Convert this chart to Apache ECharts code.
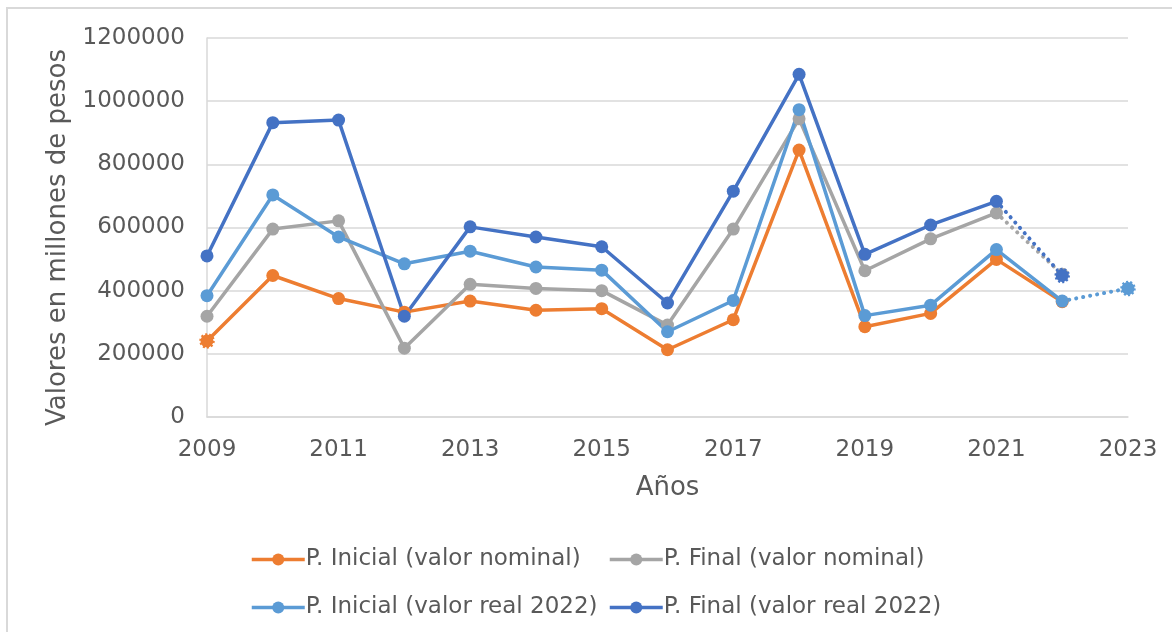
<!DOCTYPE html>
<html>
<head>
<meta charset="utf-8">
<script src="https://cdn.jsdelivr.net/npm/echarts@6/dist/echarts.min.js"></script>
<style>
    html, body { margin: 0; padding: 0; background: #fff; }
    #chart { width: 1172px; height: 632px; }
    #frame {
        position: absolute; left: 6px; top: 7px; right: -10px; bottom: -10px;
        border-left: 2px solid #D9D9D9; border-top: 2px solid #D9D9D9;
        pointer-events: none;
    }
</style>
</head>
<body>
<div id="chart"></div>
<div id="frame"></div>
<script>
// Data
const years = ['2009', '2010', '2011', '2012', '2013', '2014', '2015', '2016',
    '2017', '2018', '2019', '2020', '2021', '2022', '2023'];

const inicialNominal = [241000, 448000, 375000, 332000, 367000, 338000, 343000, 213000,
    308000, 845000, 286000, 328000, 499000, 365000, null];
const finalNominal = [319000, 595000, 621000, 218000, 420000, 407000, 400000, 291000,
    595000, 944000, 463000, 564000, 646000, 452000, null];
const inicialReal = [384000, 703000, 570000, 485000, 525000, 475000, 465000, 270000,
    369000, 973000, 321000, 354000, 530000, 367000, 407000];
const finalReal = [510000, 932000, 940000, 319000, 602000, 570000, 539000, 361000,
    715000, 1085000, 515000, 608000, 683000, 448000, null];

const yTicks = { min: 0, max: 1200000, step: 200000 };

const FONT = 'DejaVu Sans';
const TEXT = '#595959';
const GRID = '#D9D9D9';

// name, values, colour, index where the dotted (projected) part starts, projected marker indexes
const lines = [
    ['P. Inicial (valor nominal)', inicialNominal, '#ED7D31', -1, [0]],
    ['P. Final (valor nominal)', finalNominal, '#A5A5A5', 12, []],
    ['P. Inicial (valor real 2022)', inicialReal, '#5B9BD5', 13, [14]],
    ['P. Final (valor real 2022)', finalReal, '#4472C4', 12, [13]]
];

function point(v, i, color, dashed) {
    if (v == null) return null;
    if (!dashed.includes(i)) return v;
    return {
        value: v,
        itemStyle: { borderColor: color, borderWidth: 2.5, borderType: [2, 2] }
    };
}

const series = [];
lines.forEach(([name, values, color, dotFrom, dashed]) => {
    const solid = values.map((v, i) =>
        (dotFrom < 0 || i <= dotFrom) ? point(v, i, color, dashed) : null);
    series.push({
        name, type: 'line', data: solid,
        symbol: 'circle', symbolSize: 13,
        lineStyle: { color, width: 3.5 },
        itemStyle: { color },
        emphasis: { disabled: true },
        animation: false
    });
    if (dotFrom >= 0) {
        const dotted = values.map((v, i) => {
            if (i < dotFrom) return null;
            if (i === dotFrom) return { value: v, symbol: 'none' };
            return point(v, i, color, dashed);
        });
        series.push({
            name, type: 'line', data: dotted,
            symbol: 'circle', symbolSize: 13,
            lineStyle: { color, width: 4, type: [0.1, 7], cap: 'round' },
            itemStyle: { color },
            emphasis: { disabled: true },
            animation: false
        });
    }
});

const legendBase = {
    orient: 'vertical',
    top: 543,
    itemWidth: 53,
    itemHeight: 15,
    itemGap: 25,
    lineStyle: { width: 3.5, type: 'solid' },
    textStyle: { fontFamily: FONT, fontSize: 23, color: TEXT, padding: [0, 0, 0, -4] }
};

const chart = echarts.init(document.getElementById('chart'), null, { renderer: 'canvas' });

chart.setOption({
    backgroundColor: '#fff',
    grid: { left: 207, right: 44, top: 38, bottom: 215, containLabel: false },
    legend: [
        Object.assign({}, legendBase, { left: 245, data: [lines[0][0], lines[2][0]] }),
        Object.assign({}, legendBase, { left: 603, data: [lines[1][0], lines[3][0]] })
    ],
    xAxis: {
        type: 'category',
        data: years,
        boundaryGap: false,
        name: 'Años',
        nameLocation: 'middle',
        nameGap: 58,
        nameTextStyle: { fontFamily: FONT, fontSize: 26, color: TEXT },
        axisLine: { show: true, lineStyle: { color: GRID, width: 1.5 } },
        axisTick: { show: false },
        axisLabel: { interval: 1, margin: 22, fontFamily: FONT, fontSize: 23, color: TEXT }
    },
    yAxis: {
        type: 'value',
        min: yTicks.min,
        max: yTicks.max,
        interval: yTicks.step,
        name: 'Valores en millones de pesos',
        nameLocation: 'middle',
        nameRotate: 90,
        nameGap: 118,
        nameTextStyle: { fontFamily: FONT, fontSize: 26, color: TEXT, padding: [0, 20, 0, 0] },
        axisLine: { show: true, lineStyle: { color: GRID, width: 1.5 } },
        axisTick: { show: false },
        axisLabel: {
            margin: 22, fontFamily: FONT, fontSize: 23, color: TEXT,
            formatter: (v) => String(v)
        },
        splitLine: { lineStyle: { color: GRID, width: 1.5 } }
    },
    series
});
</script>
</body>
</html>
